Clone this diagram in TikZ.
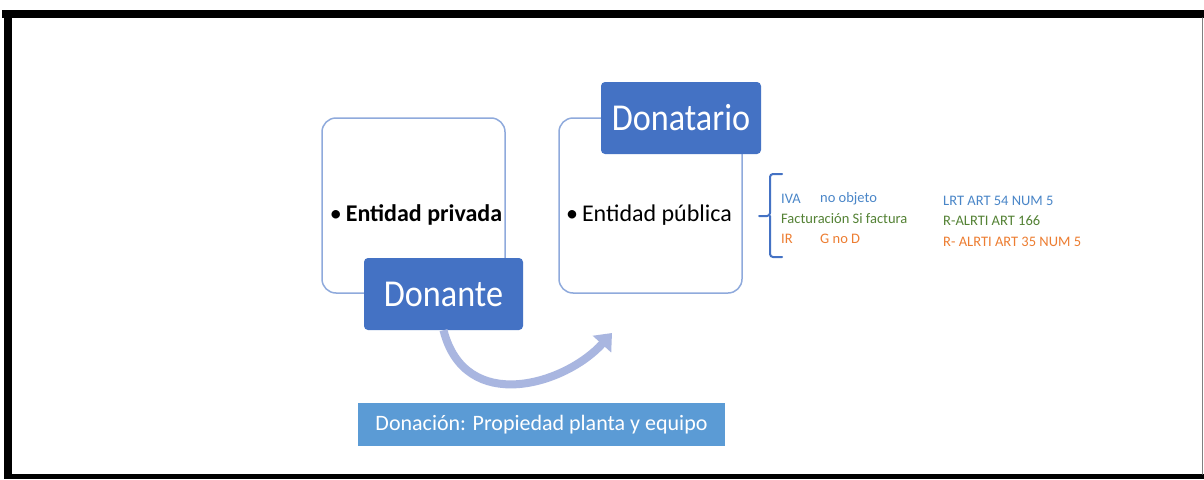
\documentclass[tikz,border=0pt]{standalone}
\usepackage{fontspec}
\setmainfont{Carlito}
\usetikzlibrary{arrows.meta}
\definecolor{donblue}{HTML}{4472C4}
\definecolor{noteblue}{HTML}{5B9BD5}
\definecolor{boxline}{HTML}{8FAADC}
\definecolor{flowlav}{HTML}{A9B6E0}
\definecolor{ivablue}{HTML}{4A86C8}
\definecolor{factgreen}{HTML}{548235}
\definecolor{irorange}{HTML}{ED7D31}
\newcommand{\narrowtext}[1]{\scalebox{0.9}[1]{#1}}

\begin{document}
\begin{tikzpicture}[line cap=round,line join=round,x=1pt,y=-1pt,
  outerbox/.style={draw=boxline,line width=1.5pt,fill=white,rounded corners=14pt,minimum width=183pt,minimum height=175pt},
  namebox/.style={fill=donblue,rounded corners=4pt,text=white,minimum width=159pt,minimum height=72pt,font=\fontsize{38}{40}\selectfont},
  entity/.style={inner sep=0pt,font=\fontsize{24}{28}\selectfont},
  note/.style={anchor=west,inner sep=0pt,font=\fontsize{14.5}{16}\selectfont},
  flow/.style={draw=flowlav,line width=8pt,line cap=butt,-{Triangle[width=24pt,length=15pt]}}]
\useasboundingbox (0,0) rectangle (1204,479);
\fill[white] (0,0) rectangle (1204,479);
\fill[black] (2,10) rectangle (1204,18);
\fill[black] (4,10) rectangle (12,479);
\fill[black] (4,474) rectangle (1204,479);
\draw[gray,line width=1.5pt] (1202.5,18) -- (1202.5,474);
\node[outerbox] (privbox) at (413.5,205.5) {};
\node[outerbox] (pubbox) at (650.5,205.5) {};
\node[namebox] (donante) at (443.5,294) {\narrowtext{Donante}};
\node[namebox,minimum width=160pt] (donatario) at (681,118) {\narrowtext{Donatario}};
\node[entity] (priv) at (416,215) {•\,\textbf{Entidad privada}};
\node[entity] (pub) at (649,215) {•\,Entidad pública};
\draw[donblue,line width=2pt,rounded corners=3pt] (782,174) -- (770,174) -- (770,216) -- (759,216) (770,216) -- (770,257) -- (782,257);
\node[note,text=ivablue] (iva) at (781,199) {IVA};
\node[note,text=ivablue] (ivanote) at (820,199) {no objeto};
\node[note,text=factgreen] (fact) at (781,219) {Facturación Si factura};
\node[note,text=irorange] (ir) at (781,239) {IR};
\node[note,text=irorange] (irnote) at (820,239) {G no D};
\node[note,text=ivablue] (lrt) at (943,201) {LRT ART 54 NUM 5};
\node[note,text=factgreen] (ralrti) at (943,221) {R-ALRTI ART 166};
\node[note,text=irorange] (ralrtib) at (943,242) {R- ALRTI ART 35 NUM 5};
\coordinate (tip) at (612,333);
\draw[flow] (donante.south) .. controls (465,415) and (565,385) .. (tip);
\node[fill=noteblue,text=white,minimum width=367pt,minimum height=43pt,font=\fontsize{22}{24}\selectfont] (donacion) at (541.5,424.5) {Donación: Propiedad planta y equipo};
\end{tikzpicture}
\end{document}
